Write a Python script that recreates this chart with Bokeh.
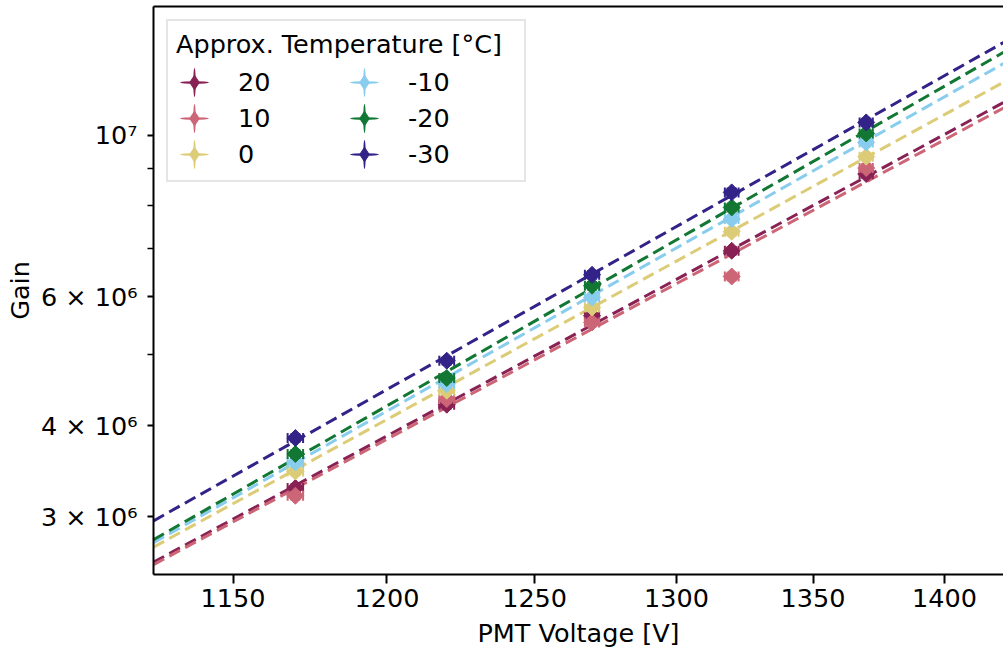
import numpy as np
from bokeh.plotting import figure
from bokeh.models import (ColumnDataSource, FixedTicker, LinearAxis, Legend,
                          LegendItem, Range1d)
from bokeh.embed import file_html
from bokeh.resources import INLINE

# ---------------- data ----------------
temps = ["20", "10", "0", "-10", "-20", "-30"]
colors = ["#882255", "#CC6677", "#DDCC77", "#88CCEE", "#117733", "#332288"]
voltages = [1170, 1220, 1270, 1320, 1370]
gain_20 = [3.284e6, 4.271e6, 5.655e6, 6.942e6, 8.843e6]
gain_10 = [3.205e6, 4.348e6, 5.537e6, 6.401e6, 9.011e6]
gain_0 = [3.460e6, 4.464e6, 5.805e6, 7.371e6, 9.339e6]
gain_m10 = [3.560e6, 4.559e6, 5.991e6, 7.672e6, 9.769e6]
gain_m20 = [3.656e6, 4.646e6, 6.216e6, 7.958e6, 1.005e7]
gain_m30 = [3.845e6, 4.907e6, 6.435e6, 8.345e6, 1.0406e7]
# fitted power-law lines (values read at the two ends of the x range)
fit_voltages = [1125, 1423]
fit_20 = [2.599e6, 1.108e7]
fit_10 = [2.579e6, 1.089e7]
fit_0 = [2.725e6, 1.181e7]
fit_m10 = [2.764e6, 1.253e7]
fit_m20 = [2.790e6, 1.298e7]
fit_m30 = [2.961e6, 1.339e7]
volt_err = 2.5          # V
gain_rel_err = 0.012    # relative
x_ticks = [1150, 1200, 1250, 1300, 1350, 1400]
y_ticks = [3e6, 4e6, 6e6, 1e7]
y_tick_labels = ["3 × 10⁶", "4 × 10⁶", "6 × 10⁶", "10⁷"]
y_minor_ticks = [5e6, 7e6, 8e6, 9e6]

gains = [gain_20, gain_10, gain_0, gain_m10, gain_m20, gain_m30]
fits = [fit_20, fit_10, fit_0, fit_m10, fit_m20, fit_m30]

FONT = "DejaVu Sans"
FS = "25.5px"

p = figure(width=1003, height=650, x_axis_type="log", y_axis_type="log",
           x_range=Range1d(1125, 1423), y_range=Range1d(2.5e6, 1.5e7),
           output_backend="svg", toolbar_location=None,
           min_border_left=153, min_border_right=0, min_border_top=6,
           min_border_bottom=76)
p.outline_line_color = None
p.grid.visible = False
p.background_fill_color = "white"
p.border_fill_color = "white"

# axes
xa = p.xaxis[0]
xa.ticker = FixedTicker(ticks=x_ticks, minor_ticks=[])
xa.major_label_overrides = {v: str(v) for v in x_ticks}
xa.axis_label = "PMT Voltage [V]"
ya = p.yaxis[0]
ya.ticker = FixedTicker(ticks=y_ticks, minor_ticks=y_minor_ticks)
ya.major_label_overrides = {v: s for v, s in zip(y_ticks, y_tick_labels)}
ya.axis_label = "Gain"
for ax in (xa, ya):
    ax.axis_line_width = 2
    ax.axis_line_color = "black"
    ax.major_tick_line_width = 2
    ax.minor_tick_line_width = 1.6
    ax.major_tick_in = 0
    ax.minor_tick_in = 0
    ax.major_label_text_font = FONT
    ax.major_label_text_font_size = FS
    ax.major_label_text_color = "black"
    ax.axis_label_text_font = FONT
    ax.axis_label_text_font_size = FS
    ax.axis_label_text_font_style = "normal"
    ax.axis_label_text_color = "black"
xa.major_tick_out = 9
xa.major_label_standoff = 5
xa.axis_label_standoff = 8
ya.major_tick_out = 6
ya.minor_tick_out = 6
ya.major_label_standoff = 10
ya.axis_label_standoff = 3

top = LinearAxis(ticker=FixedTicker(ticks=[]), major_tick_out=0, major_tick_in=0,
                 minor_tick_out=0, minor_tick_in=0, major_label_standoff=0,
                 major_label_text_font_size="0px", axis_line_width=2,
                 axis_line_color="black")
p.add_layout(top, "above")

# fit lines
for fv, c in zip(fits, colors):
    p.line(fit_voltages, fv, line_color=c, line_width=3, line_dash="12 6")

items = []
for t, g, c in zip(temps, gains, colors):
    x = np.array(voltages, dtype=float)
    y = np.array(g, dtype=float)
    src = ColumnDataSource(dict(x=x, y=y, xlo=x - volt_err, xhi=x + volt_err,
                                ylo=y * (1 - gain_rel_err), yhi=y * (1 + gain_rel_err)))
    p.segment(x0="xlo", y0="y", x1="xhi", y1="y", source=src, line_color=c, line_width=2)
    p.segment(x0="x", y0="ylo", x1="x", y1="yhi", source=src, line_color=c, line_width=2)
    p.scatter(x="x", y="ylo", source=src, marker="dash", size=10, line_color=c, line_width=2)
    p.scatter(x="x", y="yhi", source=src, marker="dash", size=10, line_color=c, line_width=2)
    p.scatter(x="xlo", y="y", source=src, marker="dash", angle=np.pi / 2, size=10,
              line_color=c, line_width=2)
    p.scatter(x="xhi", y="y", source=src, marker="dash", angle=np.pi / 2, size=10,
              line_color=c, line_width=2)
    p.scatter(x="x", y="y", source=src, marker="square", angle=np.pi / 4, size=12,
              fill_color=c, line_color=c, line_width=1)
    # legend-only glyphs (no data inside the plot): error-bar cross and diamond
    eh = p.ellipse(x=[np.nan], y=[np.nan], width=[30], height=[2.6],
                   width_units="screen", height_units="screen",
                   fill_color=c, line_color=None)
    ev = p.ellipse(x=[np.nan], y=[np.nan], width=[2.6], height=[30],
                   width_units="screen", height_units="screen",
                   fill_color=c, line_color=None)
    dm = p.scatter(x=[np.nan], y=[np.nan], marker="diamond", size=14,
                   fill_color=c, line_color=c)
    items.append(LegendItem(label=t, renderers=[eh, ev, dm]))

legend = Legend(items=items, ncols=2, location="top_left",
                title="Approx. Temperature [°C]")
legend.title_text_font = FONT
legend.title_text_font_size = FS
legend.title_text_font_style = "normal"
legend.title_text_color = "black"
legend.title_standoff = 5
legend.label_text_font = FONT
legend.label_text_font_size = FS
legend.label_text_color = "black"
legend.glyph_width = 36
legend.glyph_height = 36
legend.label_standoff = 26
legend.label_width = 108
legend.spacing = 0
legend.padding = 8
legend.margin = 13
legend.border_line_color = "#cccccc"
legend.border_line_width = 2
legend.background_fill_alpha = 0.8
p.add_layout(legend)

open("out.html", "w").write(file_html(p, INLINE))
